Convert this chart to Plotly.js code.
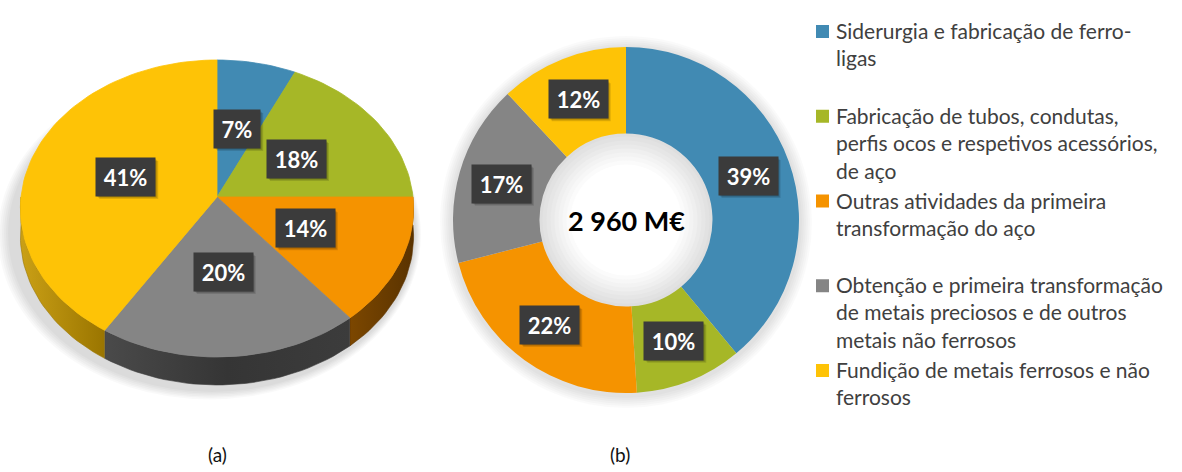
<!DOCTYPE html>
<html><head><meta charset="utf-8">
<script src="https://cdn.plot.ly/plotly-3.0.1.min.js"></script>
<style>html,body{margin:0;padding:0;background:#fff}#chart{width:1182px;height:472px}</style>
</head><body><div id="chart"></div>
<script>
// ---------------- data ----------------
const categories = [
  "Siderurgia e fabricação de ferro-ligas",
  "Fabricação de tubos, condutas, perfis ocos e respetivos acessórios, de aço",
  "Outras atividades da primeira transformação do aço",
  "Obtenção e primeira transformação de metais preciosos e de outros metais não ferrosos",
  "Fundição de metais ferrosos e não ferrosos"
];
const legendLabels = [
  "Siderurgia e fabricação de ferro-<br>ligas",
  "Fabricação de tubos, condutas,<br>perfis ocos e respetivos acessórios,<br>de aço",
  "Outras atividades da primeira<br>transformação do aço",
  "Obtenção e primeira transformação<br>de metais preciosos e de outros<br>metais não ferrosos",
  "Fundição de metais ferrosos e não<br>ferrosos"
];
const sharesA = [7, 18, 14, 20, 41];   // (a) %
const sharesB = [39, 10, 22, 17, 12];  // (b) %
const totalB = "2 960 M€";
const panelLabels = ["(a)", "(b)"];

// ---------------- style ----------------
const colors = ["#418AB3", "#A6B727", "#F59300", "#858585", "#FEC306"];
const sideScales = [
  [[0,"#2a5a76"],[1,"#1f4a62"]],
  [[0,"#6e7a18"],[1,"#5a6410"]],
  [[0,"#7c4700"],[1,"#5a3300"]],
  [[0,"#4a4a4a"],[0.5,"#353535"],[1,"#3c3c3c"]],
  [[0,"#caa016"],[1,"#9a7500"]]
];
const FONT = "Lato, 'Open Sans', sans-serif";
const W = 1182, H = 472;

// pie (a) geometry (pixel space)
const PA = {cx: 217, cy: 197, R: 196, Ry: 147.6, p: 0.0774, depth: 28};
function projA(theta, r, dz) {
  const t = theta * Math.PI / 180;
  const u = r * Math.sin(t), v = -r * Math.cos(t);
  const w = 1 - PA.p * v;
  return [PA.cx + PA.R * u / w, PA.cy + PA.Ry * v / w + (dz || 0)];
}
// donut (b) geometry
const PB = {cx: 626, cy: 220, r: 173, hole: 0.5};

const traces = [];
const annotations = [];
const shapes = [];

// soft shadows
for (let k = 0; k < 6; k++) {
  shapes.push({type: "circle", xref: "x", yref: "y", layer: "below",
    x0: 8 - k * 2, x1: 416 + k, y0: 75 - k, y1: 392 + k * 1.5,
    fillcolor: "rgba(0,0,0,0.022)", line: {width: 0}});
  shapes.push({type: "circle", xref: "x", yref: "y", layer: "below",
    x0: PB.cx - PB.r - 3 - k * 2, x1: PB.cx + PB.r + 3 + k * 2,
    y0: PB.cy - PB.r - 1 - k * 2, y1: PB.cy + PB.r + 5 + k * 2,
    fillcolor: "rgba(0,0,0,0.02)", line: {width: 0}});
}
// donut hole shading
const holeR = PB.r * PB.hole;
const holeSteps = 9;
for (let k = 0; k < holeSteps; k++) {
  const rr = holeR + 1 - k * 4;
  const g = Math.round(222 + (255 - 222) * (k / (holeSteps - 1)));
  shapes.push({type: "circle", xref: "x", yref: "y", layer: "below",
    x0: PB.cx - rr, x1: PB.cx + rr, y0: PB.cy - rr, y1: PB.cy + rr,
    fillcolor: `rgb(${g},${g},${g})`, line: {width: 0}});
}

// pie (a): side faces
let cum = 0;
const slicesA = sharesA.map(v => { const s = cum; cum += v; return [s / 100 * 360, cum / 100 * 360]; });
slicesA.forEach(([a0, a1], i) => {
  const s = Math.max(a0, 90), e = Math.min(a1, 270);
  if (e <= s) return;
  const xs = [], ys = [];
  const n = Math.max(4, Math.ceil((e - s) / 2));
  for (let j = 0; j <= n; j++) { const [x, y] = projA(s + (e - s) * j / n, 1, 0); xs.push(x); ys.push(y); }
  for (let j = n; j >= 0; j--) { const [x, y] = projA(s + (e - s) * j / n, 1, PA.depth); xs.push(x); ys.push(y); }
  traces.push({type: "scatter", x: xs, y: ys, mode: "lines", fill: "toself",
    fillgradient: {type: "horizontal", colorscale: sideScales[i]},
    line: {width: 0.6, color: sideScales[i][sideScales[i].length - 1][1]},
    hoverinfo: "skip", showlegend: false});
});
// pie (a): top faces
slicesA.forEach(([a0, a1], i) => {
  const xs = [PA.cx], ys = [PA.cy];
  const n = Math.max(4, Math.ceil((a1 - a0) / 2));
  for (let j = 0; j <= n; j++) { const [x, y] = projA(a0 + (a1 - a0) * j / n, 1, 0); xs.push(x); ys.push(y); }
  xs.push(PA.cx); ys.push(PA.cy);
  traces.push({type: "scatter", x: xs, y: ys, mode: "lines", fill: "toself",
    fillcolor: colors[i], line: {width: 0.8, color: colors[i]},
    hoverinfo: "skip", showlegend: false});
});

// donut (b)
traces.push({type: "pie", values: sharesB, labels: categories, sort: false,
  direction: "clockwise", rotation: 0, hole: PB.hole, textinfo: "none",
  marker: {colors: colors, line: {width: 0}}, showlegend: false, hoverinfo: "label+percent",
  domain: {x: [(PB.cx - PB.r) / W, (PB.cx + PB.r) / W],
           y: [(H - PB.cy - PB.r) / H, (H - PB.cy + PB.r) / H]}});

// value labels (box + drop shadow)
function addLabel(x, y, val) {
  const txt = val + "%";
  const w = txt.length <= 2 ? 38 : 51, h = 30, pad = 4;
  const bw = w + 2 * pad, bh = h + 2 * pad;
  for (let k = 1; k <= 3; k++) {
    shapes.push({type: "rect", xref: "x", yref: "y", layer: "above",
      x0: x - bw / 2 + k, x1: x + bw / 2 + k, y0: y - bh / 2 + k, y1: y + bh / 2 + k,
      fillcolor: "rgba(0,0,0,0.12)", line: {width: 0}});
  }
  annotations.push({xref: "x", yref: "y", x: x, y: y, text: "<b>" + txt + "</b>",
    showarrow: false, width: w, height: h, borderpad: pad, bgcolor: "#3B3B3B",
    font: {family: FONT, size: 22, color: "#FFFFFF"}});
}
slicesA.forEach(([a0, a1], i) => {
  const [x, y] = projA((a0 + a1) / 2, 0.49, 0);
  addLabel(x, y, sharesA[i]);
});
cum = 0;
sharesB.forEach((v, i) => {
  const mid = (cum + v / 2) / 100 * 360; cum += v;
  const t = mid * Math.PI / 180, rr = PB.r * (1 + PB.hole) / 2;
  addLabel(PB.cx + rr * Math.sin(t), PB.cy - rr * Math.cos(t), v);
});
// center total
annotations.push({xref: "x", yref: "y", x: PB.cx, y: PB.cy, text: "<b>" + totalB + "</b>",
  showarrow: false, font: {family: FONT, size: 27, color: "#000"}});
// panel captions
[PA.cx, 620].forEach((x, i) => annotations.push({xref: "x", yref: "y", x: x, y: 454,
  text: panelLabels[i], showarrow: false, font: {family: FONT, size: 19, color: "#111"}}));

// legend
legendLabels.forEach((lab, i) => {
  const c = 31 + 84.75 * i;
  shapes.push({type: "rect", xref: "x", yref: "y", x0: 816, x1: 829, y0: c - 6, y1: c + 7,
    fillcolor: colors[i], line: {width: 0}});
  annotations.push({xref: "x", yref: "y", x: 834, y: c - 15, xanchor: "left", yanchor: "top",
    align: "left", text: lab, showarrow: false,
    font: {family: FONT, size: 21, color: "#404040"}});
});

const layout = {
  width: W, height: H, margin: {l: 0, r: 0, t: 0, b: 0},
  paper_bgcolor: "#fff", plot_bgcolor: "rgba(0,0,0,0)",
  xaxis: {range: [0, W], visible: false, fixedrange: true},
  yaxis: {range: [H, 0], visible: false, fixedrange: true},
  showlegend: false, shapes: shapes, annotations: annotations
};
Plotly.newPlot("chart", traces, layout, {staticPlot: true});
</script>
</body></html>
